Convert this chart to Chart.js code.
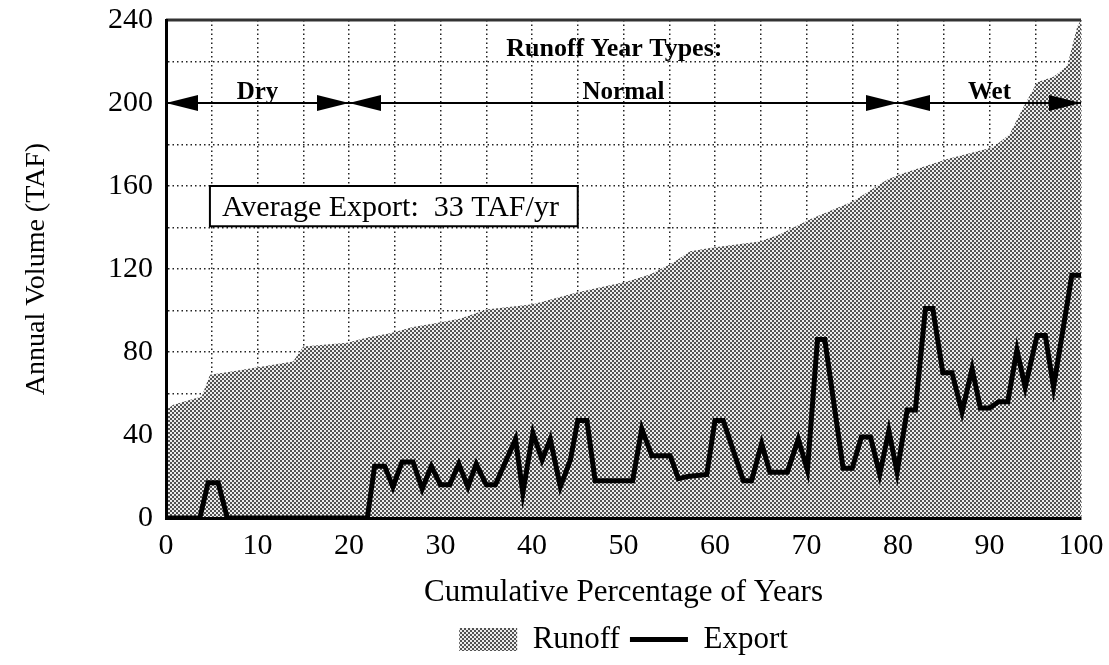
<!DOCTYPE html>
<html>
<head>
<meta charset="utf-8">
<script src="https://cdn.jsdelivr.net/npm/chart.js@4/dist/chart.umd.min.js"></script>
<style>
  html, body { margin: 0; padding: 0; background: #fff; }
  #wrap { width: 1109px; height: 665px; }
</style>
</head>
<body>
<div id="wrap"><canvas id="chart" width="1109" height="665"></canvas></div>
<script>
// Runoff (sorted), cumulative percent of years vs TAF
const runoffPct = [0, 0.8, 3.9, 4.8, 7.0, 9.9, 13.9, 15.0, 19.8, 22.0, 24.5, 27.0, 29.6, 32.1, 35.0, 40.1, 44.9, 50.4, 52.9, 55.4, 57.3, 59.8, 64.9, 67.1, 70.4, 75.1, 78.8, 80.5, 85.4, 90.4, 92.2, 93.7, 95.2, 97.0, 98.5, 99.6, 100];
const runoffVal = [52, 54.6, 58.5, 69, 70.5, 72.5, 75.4, 82.6, 84.5, 87, 89, 92, 94, 96, 100.5, 103, 108.7, 114, 117.4, 123, 128.5, 130.4, 133.3, 136.7, 144, 152.7, 163, 166, 173, 178.7, 185, 198, 210, 212.6, 218, 237, 240];

// Export for the same years
const exportPct = [0, 3.7, 4.6, 5.7, 6.7, 22, 22.8, 23.9, 24.8, 25.8, 27, 28, 29, 30, 31, 32, 33, 33.9, 35, 36, 38.2, 39, 40.1, 41.1, 42, 43.1, 44.2, 45, 46, 46.9, 51, 52, 53.1, 55.1, 56, 57, 59.1, 60, 60.9, 63.1, 64, 65.1, 66, 67.9, 69.1, 70.1, 71.2, 72, 74, 75, 76, 77, 78, 79, 79.9, 81, 81.9, 83, 83.8, 84.9, 85.9, 87, 88.1, 89, 90, 91, 92, 93, 93.9, 95.2, 96.1, 97, 99, 100];
const exportVal = [0, 0, 17, 17, 0, 0, 25, 25, 15, 27, 27, 14, 25, 16, 16, 26, 15, 26, 16, 16, 38, 12, 41, 28, 38, 15, 28, 47, 47, 18, 18, 43, 30, 30, 19, 20, 21, 47, 47, 18, 18, 36, 22, 22, 38, 23, 86, 86, 24, 24, 39, 39, 21, 42, 22, 52, 52, 101, 101, 70, 70, 51, 72, 53, 53, 56, 56, 81, 63, 88, 88, 63, 117, 117];

const yearTypes = ["Dry", "Normal", "Wet"];
const yearTypeBounds = [0, 20, 80, 100];
const avgExport = 33;

const serif = "'Liberation Serif', 'Times New Roman', serif";

// точечная штриховка как в оригинале
function makeHalftone(ctx) {
    const c = document.createElement("canvas");
    c.width = 4; c.height = 4;
    const g = c.getContext("2d");
    g.fillStyle = "#ececec";
    g.fillRect(0, 0, 4, 4);
    g.fillStyle = "#525252";
    g.fillRect(0, 0, 2, 2);
    g.fillRect(2, 2, 2, 2);
    return ctx.createPattern(c, "repeat");
}

function arrowHead(ctx, tipX, y, dir) {
    ctx.beginPath();
    ctx.moveTo(tipX, y);
    ctx.lineTo(tipX + dir * 32, y - 8);
    ctx.lineTo(tipX + dir * 32, y + 8);
    ctx.closePath();
    ctx.fill();
}

// подписи типов лет и рамка со средним экспортом
const notesPlugin = {
    id: "notes",
    afterDatasetsDraw(chart) {
        const ctx = chart.ctx;
        const xs = chart.scales.x, ys = chart.scales.y;
        ctx.save();

        // верхняя рамка
        ctx.strokeStyle = "#333";
        ctx.lineWidth = 3;
        ctx.beginPath();
        ctx.moveTo(xs.left, ys.top);
        ctx.lineTo(xs.right, ys.top);
        ctx.stroke();

        const yLine = ys.getPixelForValue(200);
        ctx.strokeStyle = "#000";
        ctx.lineWidth = 2;
        ctx.beginPath();
        ctx.moveTo(xs.getPixelForValue(0), yLine);
        ctx.lineTo(xs.getPixelForValue(100), yLine);
        ctx.stroke();

        ctx.fillStyle = "#000";
        ctx.font = "bold 25px " + serif;
        ctx.textAlign = "center";
        ctx.textBaseline = "alphabetic";
        yearTypes.forEach((name, i) => {
            const a = xs.getPixelForValue(yearTypeBounds[i]);
            const b = xs.getPixelForValue(yearTypeBounds[i + 1]);
            arrowHead(ctx, a, yLine, 1);
            arrowHead(ctx, b, yLine, -1);
            const mid = (yearTypeBounds[i] + yearTypeBounds[i + 1]) / 2;
            ctx.fillText(name, xs.getPixelForValue(mid), yLine - 4);
        });
        ctx.font = "bold 26px " + serif;
        ctx.fillText("Runoff Year Types:", xs.getPixelForValue(49), ys.getPixelForValue(222.5));

        // рамка со средним экспортом
        const bx1 = xs.getPixelForValue(4.8), bx2 = xs.getPixelForValue(45);
        const by1 = ys.getPixelForValue(160), by2 = ys.getPixelForValue(140.6);
        ctx.fillStyle = "#fff";
        ctx.fillRect(bx1, by1, bx2 - bx1, by2 - by1);
        ctx.strokeStyle = "#000";
        ctx.lineWidth = 2;
        ctx.strokeRect(bx1, by1, bx2 - bx1, by2 - by1);
        ctx.fillStyle = "#000";
        ctx.font = "30px " + serif;
        ctx.textAlign = "left";
        ctx.textBaseline = "middle";
        ctx.fillText("Average Export:  " + avgExport + " TAF/yr", bx1 + 12, (by1 + by2) / 2 + 2);

        ctx.restore();
    }
};

const canvas = document.getElementById("chart");
const ctx = canvas.getContext("2d");
const halftone = makeHalftone(ctx);

new Chart(ctx, {
    type: "line",
    data: {
        datasets: [{
            label: "Runoff",
            data: runoffPct.map((x, i) => ({ x: x, y: runoffVal[i] })),
            backgroundColor: halftone,
            borderColor: "rgba(0,0,0,0)",
            borderWidth: 0,
            pointRadius: 0,
            pointStyle: "rect",
            fill: "origin",
            tension: 0
        },
        {
            label: "Export",
            data: exportPct.map((x, i) => ({ x: x, y: exportVal[i] })),
            borderColor: "#000",
            backgroundColor: "#000",
            borderWidth: 5,
            borderJoinStyle: "miter",
            pointRadius: 0,
            pointStyle: "line",
            fill: false,
            tension: 0
        }]
    },
    options: {
        responsive: false,
        animation: false,
        layout: { padding: { top: 20, right: 28, left: 0, bottom: 0 } },
        plugins: {
            filler: { drawTime: "beforeDatasetsDraw" },
            tooltip: { enabled: false },
            legend: {
                position: "bottom",
                fullSize: false,
                labels: {
                    color: "#000",
                    font: { family: serif, size: 31 },
                    usePointStyle: true,
                    pointStyleWidth: 58,
                    boxHeight: 23,
                    padding: 10
                }
            }
        },
        scales: {
            x: {
                type: "linear",
                min: 0,
                max: 100,
                afterFit(scale) {
                    scale.height = 96;
                    scale.paddingLeft = 0;
                    scale.paddingRight = 0;
                },
                ticks: {
                    stepSize: 5,
                    autoSkip: false,
                    maxRotation: 0,
                    padding: 10,
                    color: "#000",
                    font: { family: serif, size: 30 },
                    callback: v => (v % 10 === 0 ? v : "")
                },
                grid: { color: "#222", lineWidth: 1.5, drawTicks: false },
                border: { display: true, color: "#000", width: 3, dash: [1.5, 3], z: 1 },
                title: {
                    display: true,
                    text: "Cumulative Percentage of Years",
                    color: "#000",
                    font: { family: serif, size: 31 },
                    padding: { top: 0, bottom: 3 }
                }
            },
            y: {
                type: "linear",
                min: 0,
                max: 240,
                afterFit(scale) {
                    scale.width = 166;
                    scale.paddingTop = 0;
                    scale.paddingBottom = 0;
                },
                ticks: {
                    stepSize: 20,
                    padding: 13,
                    color: "#000",
                    font: { family: serif, size: 30 },
                    callback: v => (v % 40 === 0 ? v : "")
                },
                grid: { color: "#222", lineWidth: 1.5, drawTicks: false },
                border: { display: true, color: "#000", width: 3, dash: [1.5, 3], z: 1 },
                title: {
                    display: true,
                    text: "Annual Volume (TAF)",
                    color: "#000",
                    font: { family: serif, size: 28 },
                    padding: { top: 20, bottom: 0 }
                }
            }
        }
    },
    plugins: [notesPlugin]
});
</script>
</body>
</html>
